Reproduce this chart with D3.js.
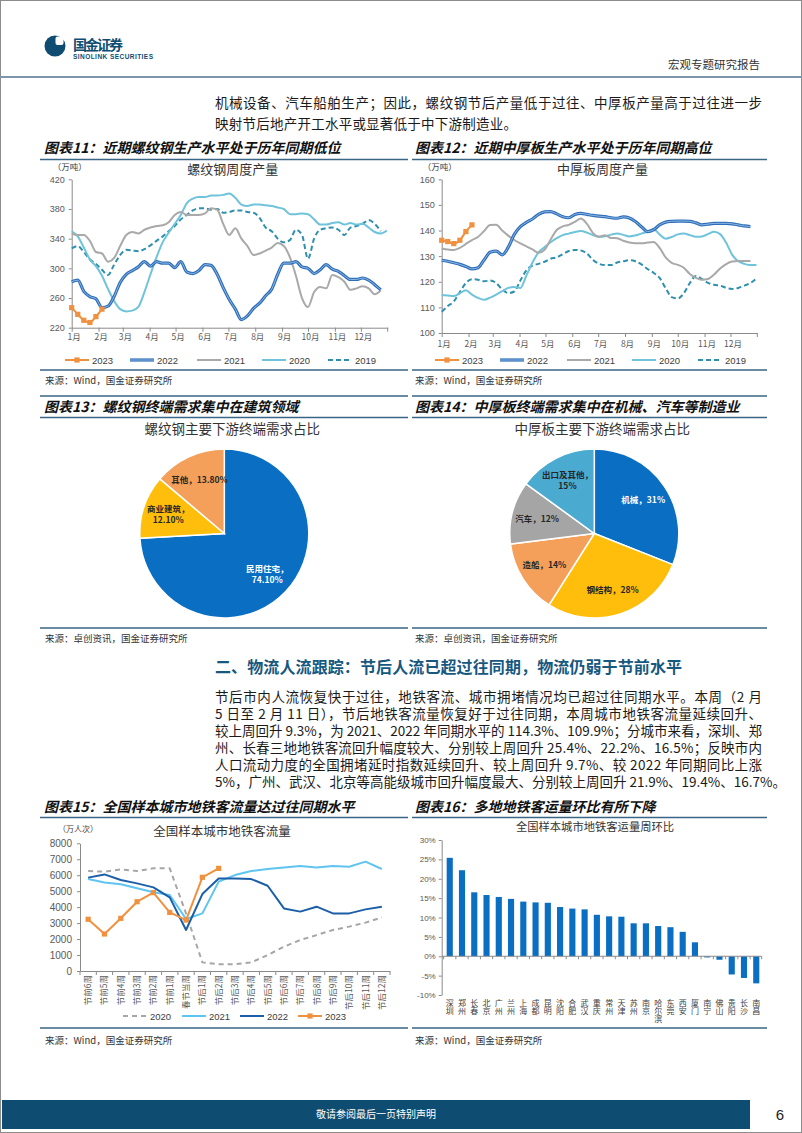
<!DOCTYPE html>
<html><head><meta charset="utf-8">
<script src="https://cdn.jsdelivr.net/npm/d3@7/dist/d3.min.js"></script>
<style>html,body{margin:0;padding:0;background:#fff;}svg{display:block;}</style>
</head><body>
<script>
// ================= DATA =================
const monthLabels = ["1月","2月","3月","4月","5月","6月","7月","8月","9月","10月","11月","12月"];
const monthStartDays = [0,31,59,90,120,151,181,212,243,273,304,334];
const yearNames = ["2023","2022","2021","2020","2019"];

// Fig 11: rebar weekly output (10k t)
const rebarTicks = [220,260,300,340,380,420];
const rebar2023 = [247,238,230,227,235,245];
const rebar2022 = [282,284,269,262,259,247,249,262,281,292,297,302,309,303,309,307,307,301,309,295,293,297,305,304,292,274,258,245,231,236,246,253,263,272,292,307,307,309,302,300,293,298,305,299,296,290,285,285,287,284,278,271];
const rebar2021 = [347,345,345,337,322,320,309,314,330,345,349,347,352,355,357,358,362,372,376,372,372,372,374,381,379,360,345,354,340,330,318,320,324,328,334,330,315,290,260,248,268,275,273,291,288,282,271,273,276,273,265,270];
const rebar2020 = [350,343,328,312,303,290,272,256,245,242,243,248,268,292,315,335,348,360,372,388,394,396,396,398,398,399,401,395,386,384,386,386,385,384,382,380,373,373,374,373,366,359,359,361,362,359,361,359,360,355,349,347,351];
const rebar2019 = [327,330,322,312,306,298,291,305,318,325,324,323,326,331,337,343,350,357,366,372,378,381,381,379,380,375,376,378,378,376,375,368,355,350,340,335,338,352,345,313,340,352,354,355,352,345,355,357,360,365,360,350];

// Fig 12: medium-thick plate weekly output (10k t)
const plateTicks = [100,110,120,130,140,150,160];
const plate2023 = [136.2,135.7,134.9,136.2,139.6,142.2];
const plate2022 = [128.4,128.0,127.4,126.8,126.0,125.0,125.5,128.5,131.5,132.0,130.5,133.5,138.5,141.5,143.2,144.5,146.3,147.3,147.4,146.5,145.4,145.0,146.3,146.7,146.3,145.9,145.6,145.4,145.0,144.8,145.3,144.9,143.5,141.5,139.6,140.3,142.2,143.3,143.6,143.7,143.7,143.6,143.0,142.2,142.5,142.8,142.8,142.8,142.6,142.2,141.8,141.5];
const plate2021 = [133.0,132.6,132.4,133.2,134.8,136.3,137.5,139.8,142.2,142.3,140.0,138.0,136.3,135.0,133.8,132.6,131.3,132.5,136.5,140.2,141.6,142.2,143.4,144.7,142.6,139.0,137.6,138.2,137.1,137.0,136.0,135.3,135.0,135.0,135.3,135.5,133.2,129.5,127.4,126.6,125.5,123.0,121.5,120.8,121.1,122.8,125.2,126.9,127.9,128.1,128.1,128.1];
const plate2020 = [114.8,114.6,114.4,115.5,116.7,115.0,113.7,113.0,113.8,115.0,116.3,117.6,118.0,117.6,122.5,127.5,131.5,133.5,135.4,137.0,138.2,138.8,139.4,139.8,139.2,138.2,137.6,137.8,138.4,138.8,138.3,137.7,138.1,138.8,139.5,140.6,138.5,136.8,137.5,138.5,138.8,138.2,137.6,137.7,138.6,139.5,138.6,135.2,130.5,128.0,127.0,126.5,126.5];
const plate2019 = [108.3,110.5,112.3,116.0,119.5,121.0,120.8,120.2,120.5,119.5,117.0,115.6,116.2,120.5,124.5,126.3,127.0,127.8,129.0,129.5,130.8,132.0,132.4,132.2,131.0,128.5,127.0,126.5,126.5,127.5,128.0,128.4,128.0,126.8,125.0,123.5,121.5,117.5,114.0,113.5,115.5,119.5,122.3,121.0,119.6,118.8,118.5,117.6,117.2,117.6,118.5,119.5,121.3];

// Fig 13 / 14: pies
const rebarUseCats = ["民用住宅","商业建筑","其他"];
const rebarUseVals = [74.1,12.1,13.8];
const rebarUseText = ["74.10%","12.10%","13.80%"];
const plateUseCats = ["机械","钢结构","造船","汽车","出口及其他"];
const plateUseVals = [31,28,14,12,15];
const plateUseText = ["31%","28%","14%","12%","15%"];

// Fig 15: metro passenger flow (10k person-times)
const metroCats = ["节前6周","节前5周","节前4周","节前3周","节前2周","节前1周","春节当周","节后1周","节后2周","节后3周","节后4周","节后5周","节后6周","节后7周","节后8周","节后9周","节后10周","节后11周","节后12周"];
const metroTicks = [0,1000,2000,3000,4000,5000,6000,7000,8000];
const metro2020 = [6260,6220,6370,6260,6430,6430,3600,540,420,420,540,1000,1520,1940,2250,2570,2780,3030,3360];
const metro2021 = [5760,5550,5430,5180,4930,4760,3260,3610,5600,6010,6260,6390,6490,6580,6490,6580,6530,6850,6390];
const metro2022 = [5850,6050,5700,5490,5240,4610,2570,4820,5800,5800,5760,5340,3920,3720,4030,3610,3610,3860,4030];
const metro2023 = [3240,2320,3300,4340,4910,3670,3190,5870,6430];

// Fig 16: week-on-week change of metro ridership (%)
const cities = ["深圳","郑州","长春","北京","广州","兰州","上海","成都","昆明","沈阳","合肥","武汉","重庆","常州","天津","苏州","南京","哈尔滨","东莞","西安","厦门","南宁","佛山","贵阳","长沙","南昌"];
const cityWoW = [25.4,22.2,16.5,15.8,15.3,14.8,14.1,13.9,13.8,12.7,12.3,12.1,10.7,10.3,10.2,8.5,8.5,7.8,7.5,6.3,3.6,-0.3,-0.9,-4.7,-5.6,-7.0];
const wowTicks = [-10,-5,0,5,10,15,20,25,30];

// ================= DRAW =================
const CJK = '"Noto Sans CJK SC","Noto Sans",sans-serif';
const NUM = '"Liberation Sans",Arial,sans-serif';
const svg = d3.select("body").append("svg").attr("width",802).attr("height",1133);

function txt(x,y,s,o={}){
  const t = svg.append("text").attr("x",x).attr("y",y).text(s)
    .attr("font-family",o.ff||CJK).attr("font-size",o.fs||12).attr("fill",o.fill||"#222");
  if(o.anchor) t.attr("text-anchor",o.anchor);
  if(o.fw) t.attr("font-weight",o.fw);
  if(o.italic) t.attr("font-style","italic");
  if(o.tl) t.attr("textLength",o.tl).attr("lengthAdjust","spacing");
  return t;
}
function hline(x1,x2,y,c,w){
  svg.append("line").attr("x1",x1).attr("x2",x2).attr("y1",y).attr("y2",y).attr("stroke",c).attr("stroke-width",w);
}

// page frame
svg.append("rect").attr("x",0.5).attr("y",0.5).attr("width",801).attr("height",1132).attr("fill","none").attr("stroke","#8c8c8c").attr("stroke-width",1);

// header
svg.append("circle").attr("cx",55).attr("cy",46).attr("r",10.5).attr("fill","#0E4D71");
svg.append("rect").attr("x",55.5).attr("y",36.5).attr("width",8).attr("height",8.5).attr("rx",2).attr("fill","#fff");
txt(73,50,"国金证券",{fs:14,fw:"bold",fill:"#0E4D71",tl:50});
txt(73,59,"SINOLINK SECURITIES",{ff:NUM,fs:6.5,fw:"bold",fill:"#0E4D71",tl:80});
txt(760,69,"宏观专题研究报告",{fs:11.5,anchor:"end",fill:"#333"});
hline(0,802,77,"#7d95a8",2);

// intro paragraph
txt(215,108,"机械设备、汽车船舶生产；因此，螺纹钢节后产量低于过往、中厚板产量高于过往进一步",{fs:13.5,tl:547,fill:"#1a1a1a"});
txt(215,129,"映射节后地产开工水平或显著低于中下游制造业。",{fs:13.5,fill:"#1a1a1a",tl:302});

// figure frames
const LINEC = "#3a6585";
function figHead(x,y,s){ txt(x,y,s,{fs:14,fw:"bold",italic:true,fill:"#111"}); }
figHead(44,153,"图表11：近期螺纹钢生产水平处于历年同期低位");
figHead(415,153,"图表12：近期中厚板生产水平处于历年同期高位");
hline(40,408,159.5,LINEC,1.3); hline(412,767,159.5,LINEC,1.3);
hline(40,408,370,LINEC,1.3); hline(412,767,370,LINEC,1.3);
txt(45,384,"来源：Wind，国金证券研究所",{fs:9.5,fill:"#333"});
txt(415,384,"来源：Wind，国金证券研究所",{fs:9.5,fill:"#333"});

hline(40,408,396,LINEC,1.3); hline(412,767,396,LINEC,1.3);
figHead(44,412,"图表13：螺纹钢终端需求集中在建筑领域");
figHead(415,412,"图表14：中厚板终端需求集中在机械、汽车等制造业");
hline(40,408,417.5,LINEC,1.3); hline(412,767,417.5,LINEC,1.3);
hline(40,408,628,LINEC,1.3); hline(412,767,628,LINEC,1.3);
txt(45,642,"来源：卓创资讯，国金证券研究所",{fs:9.5,fill:"#333"});
txt(415,642,"来源：卓创资讯，国金证券研究所",{fs:9.5,fill:"#333"});

figHead(44,812,"图表15：全国样本城市地铁客流量达过往同期水平");
figHead(415,812,"图表16：多地地铁客运量环比有所下降");
hline(40,408,817.5,LINEC,1.3); hline(412,767,817.5,LINEC,1.3);
hline(40,408,1028,LINEC,1.3); hline(412,767,1028,LINEC,1.3);
txt(45,1044,"来源：Wind，国金证券研究所",{fs:9.5,fill:"#333"});
txt(415,1044,"来源：Wind，国金证券研究所",{fs:9.5,fill:"#333"});

// section heading + paragraph (one text block, one tspan per line)
txt(215,673,"二、物流人流跟踪：节后人流已超过往同期，物流仍弱于节前水平",{fs:16,fw:"bold",fill:"#17587f",tl:467});
const paraLines = [
  "节后市内人流恢复快于过往，地铁客流、城市拥堵情况均已超过往同期水平。本周（2 月",
  "5 日至 2 月 11 日），节后地铁客流量恢复好于过往同期，本周城市地铁客流量延续回升、",
  "较上周回升 9.3%，为 2021、2022 年同期水平的 114.3%、109.9%；分城市来看，深圳、郑",
  "州、长春三地地铁客流回升幅度较大、分别较上周回升 25.4%、22.2%、16.5%；反映市内",
  "人口流动力度的全国拥堵延时指数延续回升、较上周回升 9.7%、较 2022 年同期同比上涨",
  "5%，广州、武汉、北京等高能级城市回升幅度最大、分别较上周回升 21.9%、19.4%、16.7%。"
];
const para = svg.append("text").attr("font-family",CJK).attr("font-size",13.5).attr("fill","#1a1a1a");
paraLines.forEach((s,i)=>{
  const ts = para.append("tspan").attr("x",215).attr("y",702+i*17).text(s);
  if(i<5) ts.attr("textLength",547).attr("lengthAdjust","spacing");
});

// footer
svg.append("rect").attr("x",2).attr("y",1100).attr("width",748).attr("height",29).attr("fill","#0E4D71");
txt(376,1118,"敬请参阅最后一页特别声明",{fs:10,fill:"#fff",anchor:"middle"});
txt(780,1120,"6",{ff:NUM,fs:15,fill:"#222",anchor:"middle"});

// ---------- helpers ----------
const AX = "#8a8a8a", LBL = "#595959";
function styleAxis(g,fs,ff){
  g.select(".domain").attr("stroke",AX);
  g.selectAll(".tick line").attr("stroke",AX);
  g.selectAll(".tick text").attr("fill",LBL).attr("font-size",fs).attr("font-family",ff||NUM);
}
function drawSeries(g,data,xf,yf,st){
  const line = d3.line().x((d,i)=>xf(i)).y(d=>yf(d)).curve(st.curve||d3.curveLinear);
  if(st.double){
    g.append("path").datum(data).attr("d",line).attr("fill","none").attr("stroke",st.color).attr("stroke-width",3.2).attr("stroke-linejoin","round");
    g.append("path").datum(data).attr("d",line).attr("fill","none").attr("stroke",st.inner).attr("stroke-width",1).attr("stroke-linejoin","round");
  } else {
    g.append("path").datum(data).attr("d",line).attr("fill","none").attr("stroke",st.color).attr("stroke-width",st.w||2).attr("stroke-dasharray",st.dash||null).attr("stroke-linejoin","round");
  }
  if(st.marker){
    g.selectAll(null).data(data).enter().append("rect")
      .attr("x",(d,i)=>xf(i)-2.6).attr("y",d=>yf(d)-2.6).attr("width",5.2).attr("height",5.2).attr("fill",st.color);
  }
}
function legendItem(g,x,y,st,label,len){
  if(st.double){
    g.append("line").attr("x1",x).attr("x2",x+len).attr("y1",y).attr("y2",y).attr("stroke",st.color).attr("stroke-width",3.2);
    g.append("line").attr("x1",x).attr("x2",x+len).attr("y1",y).attr("y2",y).attr("stroke",st.inner).attr("stroke-width",1);
  } else {
    g.append("line").attr("x1",x).attr("x2",x+len).attr("y1",y).attr("y2",y).attr("stroke",st.color).attr("stroke-width",st.w||2).attr("stroke-dasharray",st.dash||null);
  }
  if(st.marker) g.append("rect").attr("x",x+len/2-2.6).attr("y",y-2.6).attr("width",5.2).attr("height",5.2).attr("fill",st.color);
  g.append("text").attr("x",x+len+3).attr("y",y+3.5).text(label).attr("font-family",NUM).attr("font-size",9.5).attr("fill","#404040");
}

// ---------- Fig 11 & 12 weekly line charts ----------
const weekStyles = [
  {color:"#F0913F",w:2,marker:true},
  {color:"#2F6FB9",inner:"#8DB6E4",double:true},
  {color:"#A9A9A9",w:2},
  {color:"#6FC3DB",w:2},
  {color:"#2E8FAE",w:2,dash:"5,3"}
];
function weekChart(o){
  const g = svg.append("g");
  const x = d3.scaleLinear().domain([0,365]).range([o.x0,o.x1]);
  const y = d3.scaleLinear().domain([o.ticks[0],o.ticks[o.ticks.length-1]]).range([o.yb,o.yt]);
  const ya = g.append("g").attr("transform",`translate(${o.x0},0)`)
    .call(d3.axisLeft(y).tickValues(o.ticks).tickSize(3).tickSizeOuter(0).tickPadding(4));
  styleAxis(ya,9);
  const xa = g.append("g").attr("transform",`translate(0,${o.yb})`)
    .call(d3.axisBottom(x).tickValues(monthStartDays).tickFormat((d,i)=>monthLabels[i]).tickSize(4).tickSizeOuter(0).tickPadding(o.xpad));
  styleAxis(xa,8.5,CJK);
  xa.selectAll(".tick text").attr("dx",2);
  xa.append("line").attr("x1",o.x1).attr("x2",o.x1).attr("y1",0).attr("y2",4).attr("stroke",AX);
  txt(o.x0-19,o.yt-9,"（万吨）",{fs:8.5,fill:"#404040"});
  txt((o.x0+o.x1)/2+3,o.yt-5,o.title,{fs:13,anchor:"middle",fill:"#333"});
  const xi = i=>x(i*7);
  for(let k=o.series.length-1;k>=0;k--){
    drawSeries(g,o.series[k],xi,y,Object.assign({curve:d3.curveMonotoneX},weekStyles[k]));
  }
  const lg = svg.append("g");
  const lx = [65,130,197,262,328];
  yearNames.forEach((n,k)=>legendItem(lg,o.x0-71.7+lx[k],360,weekStyles[k],n,24));
}
weekChart({x0:71.7,x1:387.7,yt:179.3,yb:327.7,ticks:rebarTicks,xpad:2,title:"螺纹钢周度产量",
  series:[rebar2023,rebar2022,rebar2021,rebar2020,rebar2019]});
weekChart({x0:441.7,x1:757.3,yt:179.3,yb:333,ticks:plateTicks,xpad:4,title:"中厚板周度产量",
  series:[plate2023,plate2022,plate2021,plate2020,plate2019]});

// ---------- Fig 13 & 14 pies ----------
function pieChart(o){
  const g = svg.append("g").attr("transform",`translate(${o.cx},${o.cy})`);
  const arcs = d3.pie().sort(null)(o.vals);
  const arc = d3.arc().innerRadius(0).outerRadius(o.r);
  const larc = d3.arc().innerRadius(o.r*0.7).outerRadius(o.r*0.7);
  g.selectAll("path").data(arcs).enter().append("path").attr("d",arc)
    .attr("fill",(d,i)=>o.colors[i]).attr("stroke","#fff").attr("stroke-width",1.5);
  arcs.forEach((a,i)=>{
    const [lx,ly] = larc.centroid(a);
    const lines = o.wrap[i] ? [o.cats[i]+"，",o.text[i]] : [o.cats[i]+"，"+o.text[i]];
    const t = g.append("text").attr("text-anchor","middle").attr("font-family",CJK).attr("font-size",8.5)
      .attr("font-weight","bold").attr("fill",o.white[i]?"#fff":"#262626");
    lines.forEach((s,j)=>{
      t.append("tspan").attr("x",lx).attr("y",ly+3+(j-(lines.length-1)/2)*11).text(s);
    });
  });
  txt(o.cx+8,434,o.title,{fs:13.5,anchor:"middle",fill:"#333"});
}
pieChart({cx:224.3,cy:533.5,r:84.5,vals:rebarUseVals,cats:rebarUseCats,text:rebarUseText,
  colors:["#0A6FC2","#FFBE0B","#F4A05A"],white:[true,false,false],wrap:[true,true,false],
  title:"螺纹钢主要下游终端需求占比"});
pieChart({cx:594.3,cy:533.5,r:84.5,vals:plateUseVals,cats:plateUseCats,text:plateUseText,
  colors:["#0A6FC2","#FFBE0B","#F4A05A","#A5A5A5","#4BAAD0"],white:[true,false,false,false,false],wrap:[false,false,false,false,true],
  title:"中厚板主要下游终端需求占比"});

// ---------- Fig 15 metro line chart ----------
(function(){
  const g = svg.append("g");
  const x = d3.scaleBand().domain(metroCats).range([80,390]).padding(0);
  const y = d3.scaleLinear().domain([0,8000]).range([971,843.3]);
  const ya = g.append("g").attr("transform","translate(80,0)")
    .call(d3.axisLeft(y).tickValues(metroTicks).tickFormat(d3.format("d")).tickSize(3).tickSizeOuter(0).tickPadding(5));
  styleAxis(ya,10);
  const xa = g.append("g").attr("transform","translate(0,971)")
    .call(d3.axisBottom(x).tickSize(0).tickPadding(0));
  styleAxis(xa,8.5,CJK);
  xa.selectAll(".tick text").attr("transform","translate(0,4) rotate(-90)").attr("text-anchor","end").attr("dy","0.35em").attr("y",0);
  metroCats.forEach(c=>xa.append("line").attr("x1",x(c)).attr("x2",x(c)).attr("y1",0).attr("y2",4).attr("stroke",AX));
  xa.append("line").attr("x1",390).attr("x2",390).attr("y1",0).attr("y2",4).attr("stroke",AX);
  txt(58,832,"（万人次）",{fs:8,fill:"#404040"});
  txt(222,836,"全国样本城市地铁客流量",{fs:12.5,anchor:"middle",fill:"#333"});
  const xi = i=>x(metroCats[i])+x.bandwidth()/2;
  const st = [
    {color:"#A6A6A6",w:2,dash:"5,4"},
    {color:"#5FC4F0",w:2},
    {color:"#1C5FA8",w:2},
    {color:"#F0913F",w:2,marker:true}
  ];
  [metro2020,metro2021,metro2022,metro2023].forEach((d,k)=>drawSeries(g,d,xi,y,st[k]));
  const lg = svg.append("g");
  const lx=[123,182,240,298];
  ["2020","2021","2022","2023"].forEach((n,k)=>legendItem(lg,lx[k],1016,st[k],n,24));
})();

// ---------- Fig 16 bar chart ----------
(function(){
  const g = svg.append("g");
  const x = d3.scaleBand().domain(cities).range([443,763]).paddingInner(0.5).paddingOuter(0.3);
  const y = d3.scaleLinear().domain([-10,30]).range([995,840]);
  const ya = g.append("g").attr("transform","translate(441.7,0)")
    .call(d3.axisLeft(y).tickValues(wowTicks).tickFormat(d=>d+"%").tickSize(3).tickSizeOuter(0).tickPadding(3));
  styleAxis(ya,8);
  g.selectAll("rect.bar").data(cityWoW).enter().append("rect").attr("class","bar")
    .attr("x",(d,i)=>x(cities[i])).attr("width",x.bandwidth())
    .attr("y",d=>y(Math.max(0,d))).attr("height",d=>Math.abs(y(d)-y(0)))
    .attr("fill","#0A6FC2");
  const xa = g.append("g").attr("transform",`translate(0,${y(0)})`);
  xa.append("line").attr("x1",441.7).attr("x2",761.7).attr("y1",0).attr("y2",0).attr("stroke",AX);
  const step = x.step();
  cities.forEach((c,i)=>{
    const tx = x(c)+x.bandwidth()/2 - step/2;
    xa.append("line").attr("x1",tx).attr("x2",tx).attr("y1",0).attr("y2",3).attr("stroke",AX);
  });
  xa.append("line").attr("x1",761.7).attr("x2",761.7).attr("y1",0).attr("y2",3).attr("stroke",AX);
  cities.forEach(c=>{
    const cx = x(c)+x.bandwidth()/2;
    svg.append("text").attr("x",cx).attr("y",999).text(c)
      .attr("font-family",CJK).attr("font-size",8).attr("fill","#404040")
      .style("writing-mode","vertical-rl").style("text-orientation","upright");
  });
  txt(595,831,"全国样本城市地铁客运量周环比",{fs:11.3,anchor:"middle",fill:"#333"});
})();
</script>
</body></html>
